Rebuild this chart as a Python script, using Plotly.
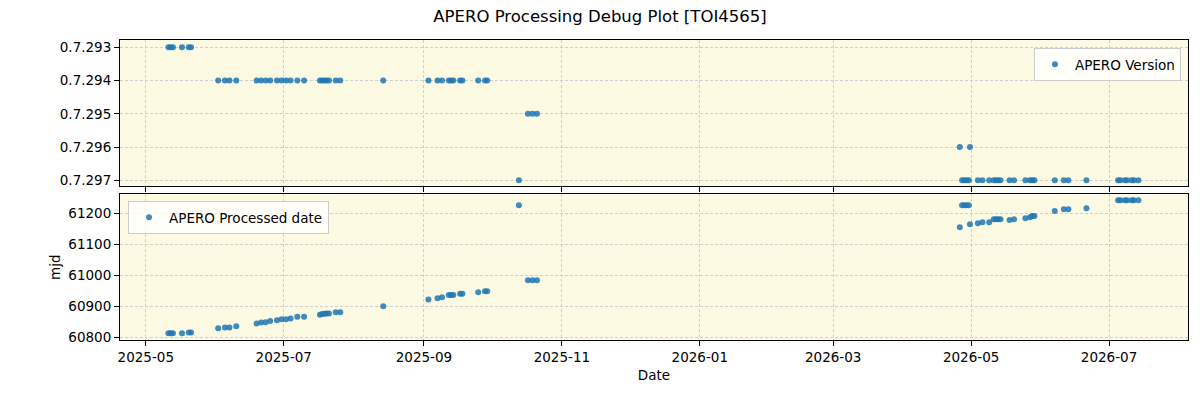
import plotly.graph_objects as go

# ---- data ----
obs_dates = [
    "2025-05-11", "2025-05-12", "2025-05-13", "2025-05-17", "2025-05-20", "2025-05-21",
    "2025-06-02", "2025-06-05", "2025-06-07", "2025-06-10",
    "2025-06-19", "2025-06-21", "2025-06-23", "2025-06-25",
    "2025-06-28", "2025-06-30", "2025-07-02", "2025-07-04",
    "2025-07-07", "2025-07-10",
    "2025-07-17", "2025-07-18", "2025-07-19", "2025-07-20", "2025-07-21", "2025-07-24", "2025-07-26",
    "2025-08-14",
    "2025-09-03", "2025-09-07", "2025-09-09", "2025-09-12", "2025-09-13", "2025-09-14",
    "2025-09-17", "2025-09-18", "2025-09-25", "2025-09-28", "2025-09-29",
    "2025-10-13",
    "2025-10-17", "2025-10-19", "2025-10-21",
    "2026-04-26", "2026-04-30 12:00",
    "2026-04-27", "2026-04-28", "2026-04-29", "2026-04-30",
    "2026-05-04", "2026-05-06", "2026-05-09", "2026-05-11", "2026-05-12", "2026-05-13", "2026-05-14",
    "2026-05-18", "2026-05-20", "2026-05-25", "2026-05-27", "2026-05-28", "2026-05-29",
    "2026-06-07", "2026-06-11", "2026-06-13", "2026-06-21",
    "2026-07-05", "2026-07-06", "2026-07-08", "2026-07-09", "2026-07-11", "2026-07-12", "2026-07-14",
]

versions = (
    ["0.7.293"] * 6
    + ["0.7.294"] * 33
    + ["0.7.297"]
    + ["0.7.295"] * 3
    + ["0.7.296"] * 2
    + ["0.7.297"] * 28
)

processed_mjd = [
    60814, 60814, 60814, 60814, 60817, 60817,
    60830, 60833, 60833, 60837,
    60846, 60849, 60850, 60854,
    60856, 60859, 60859, 60862,
    60867, 60867,
    60874, 60876, 60877, 60878, 60878, 60882, 60882,
    60901,
    60923, 60927, 60930, 60937, 60937, 60937,
    60941, 60941, 60946, 60949, 60949,
    61226,
    60985, 60985, 60985,
    61155, 61165,
    61226, 61226, 61226, 61226,
    61168, 61171, 61171, 61181, 61181, 61181, 61181,
    61178, 61181, 61184, 61187, 61191, 61191,
    61207, 61213, 61213, 61216,
    61242, 61242, 61242, 61242, 61242, 61242, 61242,
]

version_order = ["0.7.293", "0.7.294", "0.7.295", "0.7.296", "0.7.297"]
mjd_ticks = [60800, 60900, 61000, 61100, 61200]

# ---- figure ----
BLUE = "rgba(31,119,180,0.85)"
FONT = "DejaVu Sans"
BG = "#fcfae2"
GRID = "#d0d0d0"

fig = go.Figure()
fig.add_trace(go.Scatter(
    x=obs_dates, y=versions, mode="markers", name="APERO Version",
    marker=dict(color=BLUE, size=6, line=dict(width=0)),
    xaxis="x2", yaxis="y2", legend="legend",
))
fig.add_trace(go.Scatter(
    x=obs_dates, y=processed_mjd, mode="markers", name="APERO Processed date",
    marker=dict(color=BLUE, size=6, line=dict(width=0)),
    xaxis="x", yaxis="y", legend="legend2",
))

xrange = ["2025-04-19 14:00", "2026-08-04 22:00"]
common_x = dict(
    type="date", range=xrange, tick0="2025-01-01", dtick="M2", tickformat="%Y-%m",
    showline=True, mirror=True, linecolor="black", linewidth=1,
    ticks="outside", ticklen=5, tickcolor="black",
    showgrid=True, gridcolor=GRID, griddash="3px,2px", gridwidth=1,
    zeroline=False,
    tickfont=dict(family=FONT, size=13.5, color="black"),
)
common_y = dict(
    showline=True, mirror=True, linecolor="black", linewidth=1,
    ticks="outside", ticklen=5, tickcolor="black",
    showgrid=True, gridcolor=GRID, griddash="3px,2px", gridwidth=1,
    zeroline=False,
    tickfont=dict(family=FONT, size=13.5, color="black"),
)

fig.update_layout(
    width=1200, height=400,
    margin=dict(l=120, r=12, t=40, b=60),
    paper_bgcolor="white",
    plot_bgcolor=BG,
    font=dict(family=FONT, size=13.5, color="black"),
    title=dict(text="APERO Processing Debug Plot [TOI4565]", x=0.5, xanchor="center",
               y=0.96, yanchor="middle", font=dict(family=FONT, size=16.5, color="black")),
    xaxis=dict(**common_x, domain=[0, 1], anchor="y",
               title=dict(text="Date", standoff=6, font=dict(family=FONT, size=13.5))),
    yaxis=dict(**common_y, domain=[0, 0.4857], anchor="x", range=[60792.6, 61261],
               tickvals=mjd_ticks, tickformat="d",
               title=dict(text="mjd", standoff=4, font=dict(family=FONT, size=13.5))),
    xaxis2=dict(**common_x, domain=[0, 1], anchor="y2", matches="x", showticklabels=False),
    yaxis2=dict(**common_y, domain=[0.5133, 1.0], anchor="x2", type="category",
                categoryorder="array", categoryarray=version_order, range=[4.17, -0.22]),
    legend=dict(x=0.9934, y=0.9733, xanchor="right", yanchor="top",
                bgcolor="rgba(255,255,255,0.8)", bordercolor="#cccccc", borderwidth=1,
                font=dict(family=FONT, size=13.5)),
    legend2=dict(x=0.0075, y=0.4633, xanchor="left", yanchor="top",
                 bgcolor="rgba(255,255,255,0.8)", bordercolor="#cccccc", borderwidth=1,
                 font=dict(family=FONT, size=13.5)),
    showlegend=True,
)

fig.write_html("out.html")
